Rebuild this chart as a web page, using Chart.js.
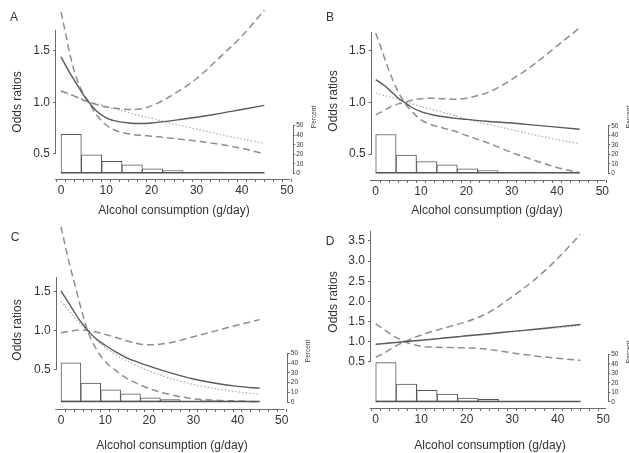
<!DOCTYPE html>
<html>
<head>
<meta charset="utf-8">
<script src="https://cdn.jsdelivr.net/npm/chart.js@4.4.1/dist/chart.umd.min.js"></script>
<style>
html, body { margin: 0; padding: 0; background: #fff; }
#page { position: relative; width: 629px; height: 453px; overflow: hidden;
  font-family: "Liberation Sans", Arial, sans-serif; color: #333; }
canvas { position: absolute; }
.lbl { position: absolute; white-space: nowrap; line-height: 1; transform: translate(-50%, -50%); }
.v { transform: translate(-50%, -50%) rotate(-90deg); }
.t12 { font-size: 12px; }
.pc { font-size: 6.5px; }
</style>
</head>
<body>
<div id="page">
  <canvas id="cA" width="315" height="226" style="left:0;top:0"></canvas>
  <canvas id="cB" width="314" height="226" style="left:315px;top:0"></canvas>
  <canvas id="cC" width="315" height="227" style="left:0;top:226px"></canvas>
  <canvas id="cD" width="314" height="227" style="left:315px;top:226px"></canvas>

  <div class="lbl t12" style="left:14px;top:17px">A</div>
  <div class="lbl t12" style="left:330px;top:17px">B</div>
  <div class="lbl t12" style="left:15px;top:237px">C</div>
  <div class="lbl t12" style="left:330px;top:241px">D</div>

  <div class="lbl t12 v" style="left:17px;top:102px">Odds ratios</div>
  <div class="lbl t12 v" style="left:333px;top:101px">Odds ratios</div>
  <div class="lbl t12 v" style="left:17px;top:330px">Odds ratios</div>
  <div class="lbl t12 v" style="left:333px;top:302px">Odds ratios</div>

  <div class="lbl t12" style="left:174px;top:210px">Alcohol consumption (g/day)</div>
  <div class="lbl t12" style="left:487px;top:210px">Alcohol consumption (g/day)</div>
  <div class="lbl t12" style="left:172px;top:445px">Alcohol consumption (g/day)</div>
  <div class="lbl t12" style="left:490px;top:445px">Alcohol consumption (g/day)</div>

  <div class="lbl pc v" style="left:314px;top:117px">Percent</div>
  <div class="lbl pc v" style="left:629px;top:117px">Percent</div>
  <div class="lbl pc v" style="left:308px;top:351px">Percent</div>
  <div class="lbl pc v" style="left:629px;top:352px">Percent</div>
</div>
<script>
// x positions (g/day) where the curves were read
const CURVE_X = [0, 1, 2, 3, 4, 5, 6, 8, 10, 12.5, 15, 17.5, 20, 25, 30, 35, 40, 45];
// histogram bins (centres, width 4.5 g/day)
const BIN_CENTERS = [2.25, 6.75, 11.25, 15.75, 20.25, 24.75, 29.25, 33.75, 38.25, 42.75];
const BIN_WIDTH = 4.5;

const X_TICKS = [0, 2, 4, 6, 8, 10, 12, 14, 16, 18, 20, 22, 24, 26, 28, 30, 32, 34, 36, 38, 40, 42, 44, 46, 48, 50];
const ODDS_TICKS = [0.5, 1.0, 1.5];
const ODDS_TICKS_D = [0.5, 1.0, 1.5, 2.0, 2.5, 3.0, 3.5];
const PCT_TICKS = [0, 10, 20, 30, 40, 50];

// panel A
const A_MODEL = [1.44, 1.36, 1.28, 1.21, 1.14, 1.07, 1.01, 0.91, 0.85, 0.815, 0.80, 0.795, 0.80, 0.825, 0.855, 0.89, 0.93, 0.97];
const A_CI_1  = [1.875, 1.67, 1.46, 1.29, 1.17, 1.08, 1.01, 0.87, 0.78, 0.72, 0.695, 0.68, 0.672, 0.65, 0.625, 0.595, 0.555, 0.50];
const A_CI_2  = [1.11, 1.095, 1.08, 1.06, 1.04, 1.02, 1.005, 0.975, 0.955, 0.94, 0.93, 0.935, 0.965, 1.08, 1.23, 1.43, 1.64, 1.89];
const A_ALT   = [1.10, 1.085, 1.07, 1.055, 1.04, 1.025, 1.01, 0.985, 0.96, 0.93, 0.90, 0.87, 0.845, 0.79, 0.74, 0.69, 0.645, 0.60];
const A_HIST  = [41, 19.3, 12.6, 9, 4.8, 2.8, 0.8, 1.4, 0.6, 0.5];

// panel B
const B_MODEL = [1.22, 1.19, 1.16, 1.12, 1.08, 1.04, 1.01, 0.95, 0.91, 0.88, 0.86, 0.845, 0.835, 0.815, 0.80, 0.78, 0.76, 0.74];
const B_CI_1  = [1.67, 1.55, 1.42, 1.30, 1.19, 1.10, 1.02, 0.91, 0.83, 0.78, 0.75, 0.72, 0.68, 0.605, 0.515, 0.44, 0.37, 0.32];
const B_CI_2  = [0.88, 0.90, 0.925, 0.95, 0.97, 0.985, 0.995, 1.02, 1.035, 1.04, 1.035, 1.03, 1.04, 1.10, 1.22, 1.37, 1.545, 1.72];
const B_ALT   = [1.09, 1.078, 1.065, 1.053, 1.04, 1.025, 1.01, 0.985, 0.96, 0.93, 0.90, 0.87, 0.84, 0.785, 0.735, 0.685, 0.64, 0.60];
const B_HIST  = [41, 19.2, 12.5, 9, 4.8, 2.8, 0.7, 1.3, 0.7, 0.6];

// panel C
const C_MODEL = [1.51, 1.42, 1.33, 1.24, 1.15, 1.075, 1.005, 0.89, 0.81, 0.72, 0.645, 0.59, 0.54, 0.45, 0.375, 0.32, 0.28, 0.255];
const C_CI_1  = [2.34, 2.08, 1.84, 1.62, 1.40, 1.19, 1.0, 0.76, 0.60, 0.48, 0.38, 0.31, 0.25, 0.17, 0.12, 0.10, 0.09, 0.08];
const C_CI_2  = [0.97, 0.98, 0.99, 1.0, 1.005, 1.005, 1.0, 0.98, 0.95, 0.91, 0.865, 0.83, 0.815, 0.845, 0.92, 0.995, 1.07, 1.14];
const C_ALT   = [1.38, 1.31, 1.24, 1.17, 1.11, 1.05, 1.0, 0.88, 0.78, 0.685, 0.605, 0.535, 0.475, 0.38, 0.305, 0.25, 0.21, 0.18];
const C_HIST  = [40.5, 19.6, 12.5, 8.4, 4.4, 2.6, 0.7, 1.4, 1.0, 0.6];

// panel D
const D_MODEL = [0.94, 0.95, 0.96, 0.97, 0.98, 0.99, 1.0, 1.02, 1.04, 1.065, 1.095, 1.12, 1.15, 1.20, 1.26, 1.31, 1.37, 1.43];
const D_CI_1  = [0.62, 0.67, 0.73, 0.80, 0.87, 0.93, 0.985, 1.08, 1.17, 1.26, 1.34, 1.42, 1.50, 1.74, 2.12, 2.55, 3.07, 3.67];
const D_CI_2  = [1.45, 1.37, 1.29, 1.21, 1.14, 1.08, 1.02, 0.94, 0.89, 0.87, 0.86, 0.855, 0.85, 0.81, 0.725, 0.65, 0.59, 0.54];
const D_ALT   = [0.93, 0.94, 0.95, 0.965, 0.975, 0.99, 1.0, 1.02, 1.04, 1.06, 1.09, 1.115, 1.14, 1.19, 1.245, 1.30, 1.35, 1.40];
const D_HIST  = [41.3, 18.9, 12.2, 8.4, 4.2, 2.8, 0.4, 1.0, 0.6, 0.5];

Chart.defaults.font.family = '"Liberation Sans", Arial, sans-serif';
Chart.defaults.color = '#333';

const AXIS_COL = '#6a6a6a';

function pts(xs, ys) {
  return xs.map((x, i) => ({ x: x, y: ys[i] }));
}

// R style axis lines: only over a span, not the whole plot box
function axisLines(spans) {
  return {
    id: 'axisLines',
    afterDraw(chart) {
      const { ctx, chartArea: ca, scales } = chart;
      ctx.save();
      ctx.strokeStyle = AXIS_COL;
      ctx.lineWidth = 1;
      ctx.beginPath();
      const yb = Math.round(ca.bottom) + 0.5;
      ctx.moveTo(scales.x.getPixelForValue(spans.x[0]), yb);
      ctx.lineTo(scales.x.getPixelForValue(spans.x[1]), yb);
      const xl = Math.round(ca.left) - 0.5;
      ctx.moveTo(xl, scales.y.getPixelForValue(spans.y[0]));
      ctx.lineTo(xl, scales.y.getPixelForValue(spans.y[1]));
      const xr = Math.round(ca.right) + 0.5;
      ctx.moveTo(xr, scales.y2.getPixelForValue(0));
      ctx.lineTo(xr, scales.y2.getPixelForValue(50));
      ctx.stroke();
      // bottom edge of the histogram (very short bins collapse onto it)
      ctx.strokeStyle = '#555';
      ctx.lineWidth = 1.6;
      ctx.beginPath();
      const y0 = scales.y2.getPixelForValue(0) - 0.5;
      ctx.moveTo(scales.x.getPixelForValue(BIN_CENTERS[0] - BIN_WIDTH / 2), y0);
      ctx.lineTo(scales.x.getPixelForValue(BIN_CENTERS[BIN_CENTERS.length - 1] + BIN_WIDTH / 2), y0);
      ctx.stroke();
      ctx.restore();
    }
  };
}

function lineSet(data, kind) {
  const base = { type: 'line', data: data, pointRadius: 0, fill: false,
    cubicInterpolationMode: 'monotone', yAxisID: 'y', order: 0 };
  if (kind === 'model') return Object.assign(base, { borderColor: '#5a5a5a', borderWidth: 1.4 });
  if (kind === 'ci') return Object.assign(base, { borderColor: '#8e8e8e', borderWidth: 1.5, borderDash: [7, 4] });
  return Object.assign(base, { borderColor: '#ababab', borderWidth: 1.2, borderDash: [1.5, 2] });
}

// box: canvas-local plot area; xr/yr/pr: axis ranges
function panel(id, box, xr, yr, pr, oddsTicks, ySpan, model, ci1, ci2, alt, hist) {
  const pxPerUnit = (box.right - box.left) / (xr[1] - xr[0]);
  new Chart(document.getElementById(id), {
    type: 'line',
    data: {
      datasets: [
        lineSet(pts(CURVE_X, model), 'model'),
        lineSet(pts(CURVE_X, ci1), 'ci'),
        lineSet(pts(CURVE_X, ci2), 'ci'),
        lineSet(pts(CURVE_X, alt), 'alt'),
        {
          type: 'bar', data: pts(BIN_CENTERS, hist), yAxisID: 'y2', order: 5,
          backgroundColor: '#fff', borderColor: '#555', borderWidth: 1,
          borderSkipped: false, barThickness: BIN_WIDTH * pxPerUnit
        }
      ]
    },
    options: {
      responsive: false,
      animation: false,
      layout: { padding: { top: box.top, left: 0, right: 0, bottom: 0 } },
      plugins: { legend: { display: false }, tooltip: { enabled: false } },
      scales: {
        x: {
          type: 'linear', min: xr[0], max: xr[1], offset: false,
          afterBuildTicks: s => { s.ticks = X_TICKS.map(v => ({ value: v })); },
          afterFit: s => { s.height = box.h - box.bottom; s.paddingLeft = 0; s.paddingRight = 0; },
          border: { display: false },
          grid: { drawOnChartArea: false, drawTicks: true, tickLength: 3, color: AXIS_COL },
          ticks: { autoSkip: false, maxRotation: 0, padding: 1, font: { size: 12 },
            callback: v => (v % 10 === 0 ? String(v) : '') }
        },
        y: {
          type: 'linear', position: 'left', min: yr[0], max: yr[1],
          afterBuildTicks: s => { s.ticks = oddsTicks.map(v => ({ value: v })); },
          afterFit: s => { s.width = box.left; s.paddingTop = 0; s.paddingBottom = 0; },
          border: { display: false },
          grid: { drawOnChartArea: false, drawTicks: true, tickLength: 3, color: AXIS_COL },
          ticks: { padding: 3, font: { size: 12 }, callback: v => Number(v).toFixed(1) }
        },
        y2: {
          type: 'linear', position: 'right', min: pr[0], max: pr[1],
          afterBuildTicks: s => { s.ticks = PCT_TICKS.map(v => ({ value: v })); },
          afterFit: s => { s.width = box.w - box.right; s.paddingTop = 0; s.paddingBottom = 0; },
          border: { display: false },
          grid: { drawOnChartArea: false, drawTicks: true, tickLength: 2.5, color: AXIS_COL },
          ticks: { padding: 1, font: { size: 6.5 }, callback: v => String(v) }
        }
      }
    },
    plugins: [axisLines({ x: [-1.3, 50.6], y: ySpan })]
  });
}

panel('cA', { w: 315, h: 226, left: 56, right: 292.7, top: 5, bottom: 179 },
  [-1.106, 51.26], [0.258, 1.941], [-5.99, 176.8], ODDS_TICKS, [0.5, 1.7],
  A_MODEL, A_CI_1, A_CI_2, A_ALT, A_HIST);

panel('cB', { w: 314, h: 226, left: 56.7, right: 292.7, top: 5, bottom: 180 },
  [-0.883, 51.19], [0.249, 1.941], [-7.08, 177.9], ODDS_TICKS, [0.5, 1.68],
  B_MODEL, B_CI_1, B_CI_2, B_ALT, B_HIST);

panel('cC', { w: 315, h: 227, left: 56.7, right: 287.3, top: 1, bottom: 183 },
  [-0.974, 51.27], [-0.012, 2.334], [-7.2, 180.4], ODDS_TICKS, [0.5, 1.69],
  C_MODEL, C_CI_1, C_CI_2, C_ALT, C_HIST);

panel('cD', { w: 314, h: 227, left: 56, right: 292.7, top: 1, bottom: 182 },
  [-1.03, 50.97], [-0.641, 3.847], [-6.29, 183.4], ODDS_TICKS_D, [0.5, 3.75],
  D_MODEL, D_CI_1, D_CI_2, D_ALT, D_HIST);
</script>
</body>
</html>
